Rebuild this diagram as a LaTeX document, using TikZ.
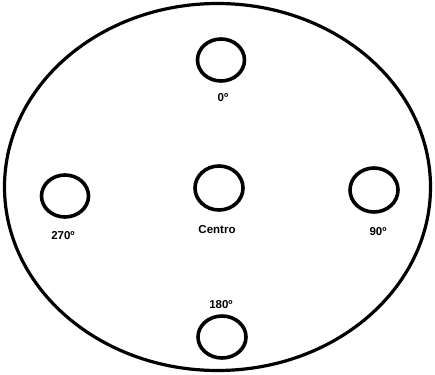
\documentclass[tikz,border=0pt]{standalone}
\usepackage{fontspec}
\setmainfont{Liberation Sans}
\usetikzlibrary{calc}

\begin{document}
\begin{tikzpicture}[x=1pt, y=-1pt, every node/.style={inner sep=0pt, font=\bfseries\fontsize{11.5}{13}\selectfont}]
    \useasboundingbox (0,0) rectangle (435,374);

    % 1. centros
    \coordinate (O) at (217.5, 187);
    \coordinate (P0) at (221, 60);
    \coordinate (P270) at (65, 196);
    \coordinate (PC) at (219, 188);
    \coordinate (P90) at (374, 190);
    \coordinate (P180) at (222, 337);

    % 2. contorno
    \draw[line width=3.2pt] (O) ellipse (213 and 183.5);

    % 3. posiciones
    \draw[line width=3.6pt] (P0) ellipse (23.5 and 21);
    \draw[line width=3.6pt] (P270) ellipse (23.5 and 21);
    \draw[line width=3.6pt] (PC) ellipse (24 and 22);
    \draw[line width=3.6pt] (P90) ellipse (24 and 22);
    \draw[line width=3.6pt] (P180) ellipse (24 and 21);

    % 4. etiquetas
    \node (L0) at (223, 98) {0º};
    \node (L270) at (63, 236) {270º};
    \node (LC) at (217, 230) {Centro};
    \node (L90) at (378, 232) {90º};
    \node (L180) at (221, 305) {180º};

\end{tikzpicture}
\end{document}
